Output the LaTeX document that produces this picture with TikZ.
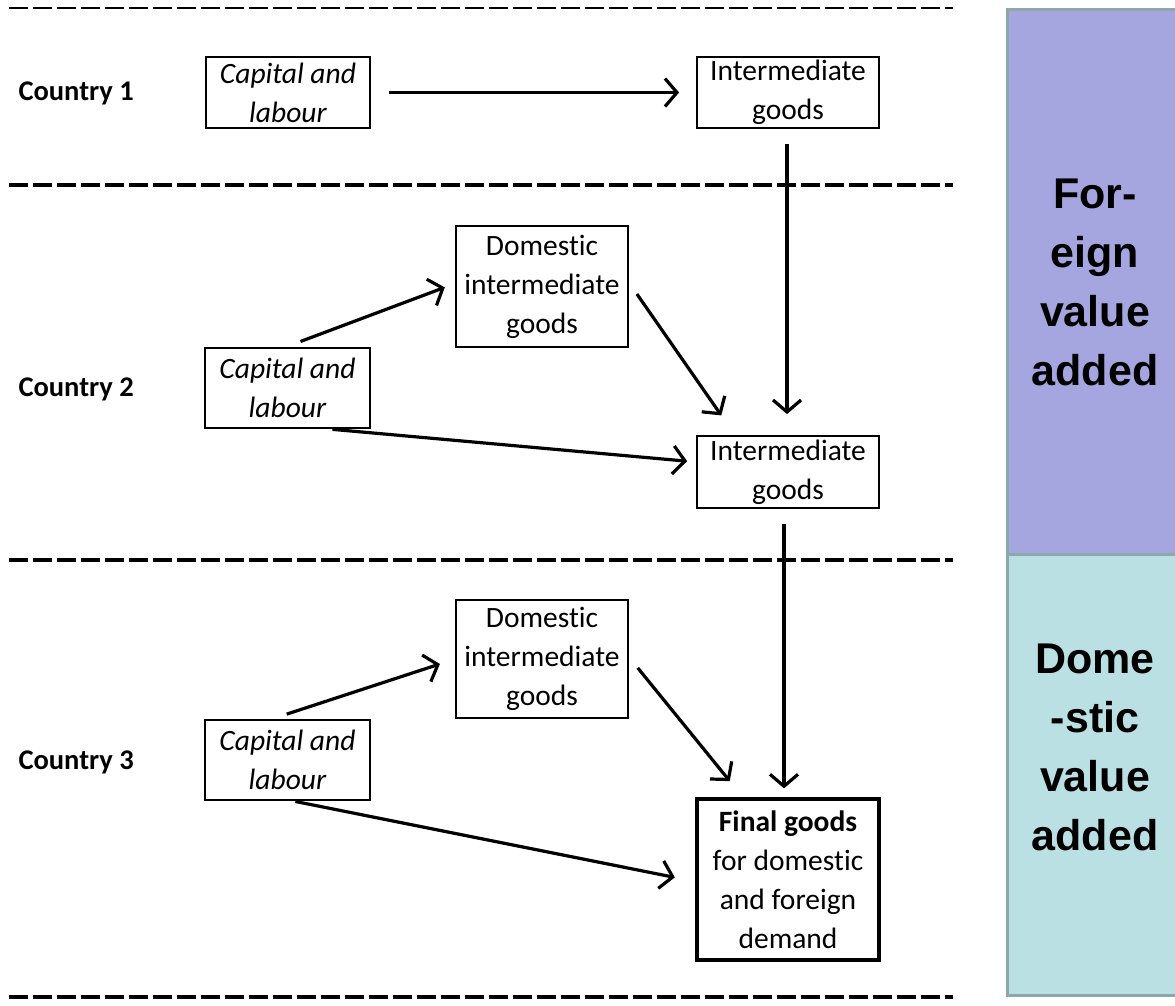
\documentclass[tikz,border=0pt]{standalone}
\usepackage{fontspec}
\setmainfont{Carlito}[Ligatures=NoCommon]
\newfontfamily\barfont{Liberation Sans}
\usetikzlibrary{arrows.meta, positioning}
\definecolor{foreignfill}{HTML}{A5A5E0}
\definecolor{domesticfill}{HTML}{BBE0E3}
\definecolor{barborder}{HTML}{8CA8A8}

\tikzset{
  goodsbox/.style={draw, line width=1.8pt, align=center, inner sep=0pt,
    font=\fontsize{29.5}{39}\selectfont},
  inputbox/.style={goodsbox, font=\fontsize{29.5}{39}\selectfont\itshape},
  countrylabel/.style={anchor=west, font=\fontsize{28.5}{32}\selectfont\bfseries},
  flow/.style={-{Straight Barb[length=12pt, width=28pt, line width=3.2pt]}, line width=3.2pt},
  border/.style={dash pattern=on 19pt off 5pt, line width=3.5pt},
  valuebar/.style={draw=barborder, line width=3pt},
  bartext/.style={align=center, font=\fontsize{43}{59}\selectfont\barfont\bfseries}
}

\begin{document}
\begin{tikzpicture}[x=1pt, y=-1pt]
            \useasboundingbox (0,0) rectangle (1175,1005);
            % borders between countries
            \draw[border, line width=2.5pt] (9,8) -- (953,8);
            \draw[border] (9,185) -- (953,185);
            \draw[border] (9,560) -- (953,560);
            \draw[border] (9,997) -- (953,997);
            % value added bars
            \fill[foreignfill] (1007,9) rectangle (1180,554);
            \fill[domesticfill] (1007,554) rectangle (1180,995);
            \draw[valuebar] (1180,9) -- (1007,9) -- (1007,995) -- (1180,995);
            \draw[valuebar] (1007,554) -- (1180,554);
            \node[bartext] (foreign) at (1095,282) {For-\\eign\\value\\added};
            \node[bartext] (domestic) at (1095,747) {Dome\\-stic\\value\\added};
            % country 1
            \node[countrylabel] (country1) at (15,93) {Country 1};
            \node[inputbox, minimum width=164pt, minimum height=71pt] (cap1) at (288,92.5) {Capital and\\labour};
            \node[goodsbox, minimum width=182pt, minimum height=71pt] (int1) at (788,92.5) {Intermediate\\goods};
            % country 2
            \node[countrylabel] (country2) at (15,389) {Country 2};
            \node[goodsbox, minimum width=172pt, minimum height=121pt] (dom2) at (542,286.5) {Domestic\\intermediate\\goods};
            \node[inputbox, minimum width=165pt, minimum height=80pt] (cap2) at (287.5,388) {Capital and\\labour};
            \node[goodsbox, minimum width=182pt, minimum height=72pt] (int2) at (788,472) {Intermediate\\goods};
            % country 3
            \node[countrylabel] (country3) at (15,762) {Country 3};
            \node[goodsbox, minimum width=172pt, minimum height=118pt] (dom3) at (542,659) {Domestic\\intermediate\\goods};
            \node[inputbox, minimum width=165pt, minimum height=80pt] (cap3) at (287.5,760) {Capital and\\labour};
            \node[goodsbox, line width=3.2pt, minimum width=182pt, minimum height=161pt] (final) at (788,879.5) {\textbf{Final goods}\\for domestic\\and foreign\\demand};
            % flows
            \draw[flow, shorten <=18pt, shorten >=17pt] (cap1.east) -- (int1.west);
            \draw[flow, shorten <=15pt, shorten >=21pt] ([xshift=-1pt]int1.south) -- ([xshift=-1pt]int2.north);
            \draw[flow, shorten <=16pt, shorten >=11pt] ([xshift=-2pt]cap2.north) -- ([yshift=3pt]dom2.west);
            \draw[flow, shorten <=14pt, shorten >=24pt] ([yshift=4pt]dom2.east) -- ([xshift=-53pt]int2.north);
            \draw[flow, shorten <=5pt, shorten >=9pt] ([xshift=40pt]cap2.south) -- ([yshift=10pt]int2.west);
            \draw[flow, shorten <=15pt, shorten >=9pt] ([xshift=-4pt]int2.south) -- ([xshift=-4pt]final.north);
            \draw[flow, shorten <=16pt, shorten >=16pt] ([xshift=-16pt]cap3.north) -- (dom3.west);
            \draw[flow, shorten <=14pt, shorten >=21pt] ([yshift=2pt]dom3.east) -- ([xshift=-45pt]final.north);
            \draw[flow, shorten <=3pt, shorten >=21pt] ([xshift=5pt]cap3.south) -- ([yshift=-2pt]final.west);
        \end{tikzpicture}
\end{document}
